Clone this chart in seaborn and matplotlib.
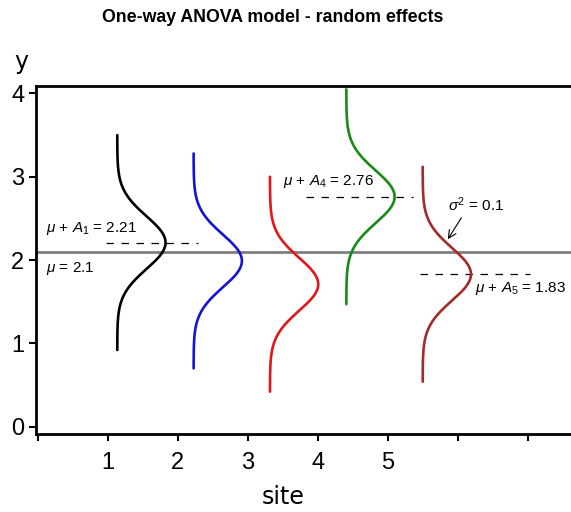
import numpy as np
import pandas as pd
import seaborn as sns
import matplotlib.pyplot as plt

# model values
sites = [1, 2, 3, 4, 5]
site_means = [2.21, 1.99, 1.71, 2.76, 1.83]
grand_mean = 2.1
sigma2 = 0.1
colors = ["black", "#1414d8", "#e01818", "#178a17", "#a52a2a"]
x_ticks = [0, 1, 2, 3, 4, 5, 6, 7]
x_ticklabels = ["", "1", "2", "3", "4", "5", "", ""]
y_ticks = [0, 1, 2, 3, 4]

sns.set_style("ticks")
plt.rcParams["font.family"] = ["Liberation Sans", "DejaVu Sans"]
plt.rcParams["mathtext.fontset"] = "custom"
plt.rcParams["mathtext.rm"] = "Liberation Sans"
plt.rcParams["mathtext.it"] = "Liberation Sans:italic"
for k in ["text.color", "axes.labelcolor", "xtick.color", "ytick.color"]:
    plt.rcParams[k] = "black"

# curves: normal densities turned on their side
peak_w = 0.69
half_range = 1.29
rows = []
for s, m in zip(sites, site_means):
    base = 0.046 + 1.091 * s
    yy = np.linspace(m - half_range, m + half_range, 200)
    xx = base + peak_w * np.exp(-(yy - m) ** 2 / (2 * sigma2))
    for a, b in zip(xx, yy):
        rows.append({"site": str(s), "x": a, "y": b})
df = pd.DataFrame(rows)

fig = plt.figure(figsize=(5.71, 5.12), dpi=100)
ax = fig.add_axes([36 / 571, 78 / 512, 535 / 571, 348 / 512])

ax.axhline(grand_mean, color="#7f7f7f", lw=2, zorder=1)

sns.lineplot(data=df, x="x", y="y", hue="site", palette=colors, orient="y",
             sort=False, estimator=None, lw=1.9, legend=False, ax=ax, zorder=3)

# dashed lines at site means
dash_ext = {1: (-0.85, 0.46), 4: (-1.27, 0.26), 5: (-0.73, 0.84)}
for s, (lo, hi) in dash_ext.items():
    m = site_means[s - 1]
    peak = 0.046 + 1.091 * s + peak_w
    ax.plot([peak + lo, peak + hi], [m, m], color="black", lw=0.9,
            linestyle=(0, (6, 6)), zorder=2)

fs = 11
ax.text(0.12, 2.38, r"$\mu$ + $A_1$ = 2.21", fontsize=fs, va="center")
ax.text(0.12, 1.90, r"$\mu$ = 2.1", fontsize=fs, va="center")
ax.text(3.50, 2.94, r"$\mu$ + $A_4$ = 2.76", fontsize=fs, va="center")
ax.text(6.25, 1.66, r"$\mu$ + $A_5$ = 1.83", fontsize=fs, va="center")
ax.annotate(r"$\sigma^2$ = 0.1", xy=(5.86, 2.25), xytext=(5.86, 2.66),
            fontsize=fs, va="center",
            arrowprops=dict(arrowstyle="->", lw=0.8, color="black",
                            shrinkA=0, shrinkB=0, relpos=(0.28, 0),
                            mutation_scale=14))

ax.set_xlim(-0.024, 7.62)
ax.set_ylim(-0.088, 4.09)
ax.set_xticks(x_ticks)
ax.set_xticklabels(x_ticklabels)
ax.set_yticks(y_ticks)
ax.set_xlabel("")
ax.set_ylabel("")
ax.tick_params(labelsize=17, width=1.5, length=5, color="black",
               labelcolor="black")
ax.tick_params(axis="x", pad=8)
for side in ["left", "bottom", "top"]:
    ax.spines[side].set_linewidth(2)
    ax.spines[side].set_color("black")
ax.spines["right"].set_visible(False)

fig.text(0.478, 1 - 17 / 512, "One-way ANOVA model - random effects",
         fontsize=12.8, fontweight="bold", ha="center", va="center")
fig.text(283 / 571, 15 / 512, "site", family="DejaVu Sans", fontsize=17,
         ha="center", va="center")
fig.text(14 / 571, 1 - 62 / 512, "y", family="DejaVu Sans", fontsize=17,
         ha="left", va="center")

fig.savefig("out.png", dpi=100)
